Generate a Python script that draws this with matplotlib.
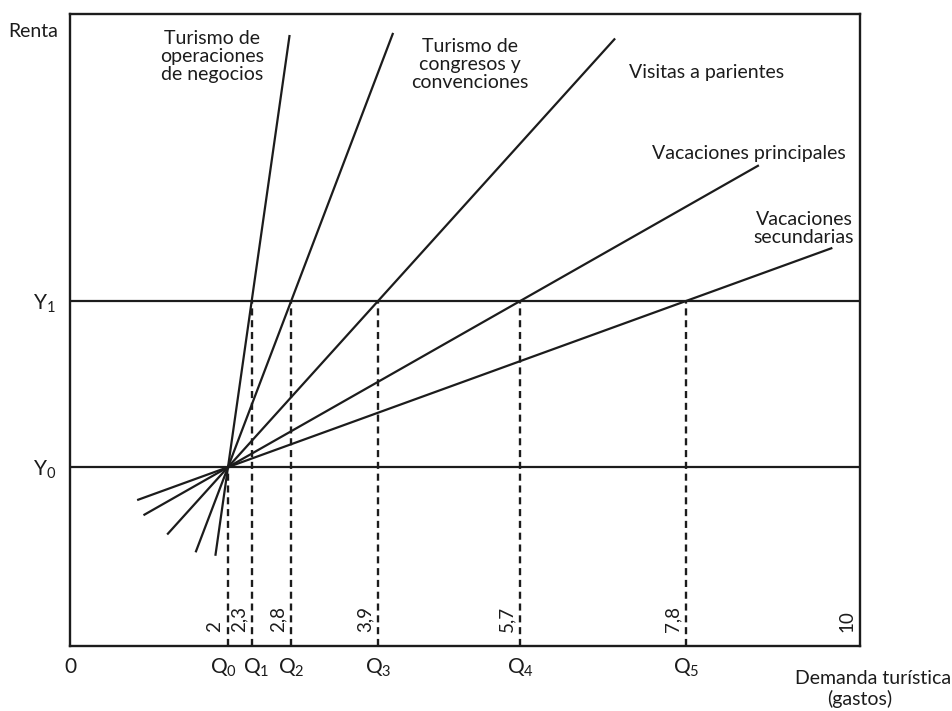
import matplotlib
matplotlib.use("Agg")
import numpy as np
import matplotlib.pyplot as plt
from matplotlib.transforms import ScaledTranslation

# demand levels at income Y1 (Q0 is the common point at Y0)
q0 = 2.0
q_values = [2.3, 2.8, 3.9, 5.7, 7.8]
q_names = ["Q$_1$", "Q$_2$", "Q$_3$", "Q$_4$", "Q$_5$"]
q_marks = ["2", "2,3", "2,8", "3,9", "5,7", "7,8", "10"]
q_mark_pos = [2.0, 2.3, 2.8, 3.9, 5.7, 7.8, 10.0]

# income levels
y0 = 2.83
y1 = 5.46

# extent of each demand line along the x axis (lower end, upper end)
line_lo = [1.84, 1.59, 1.23, 0.93, 0.85]
line_hi = [2.78, 4.09, 6.90, 8.72, 9.65]
line_labels = ["Turismo de\noperaciones\nde negocios",
               "Turismo de\ncongresos y\nconvenciones",
               "Visitas a parientes",
               "Vacaciones principales",
               "Vacaciones\nsecundarias"]
label_pos = [(1.80, 9.33), (5.06, 9.20), (7.08, 9.07), (8.59, 7.80), (9.29, 6.61)]
label_ha = ["center", "center", "left", "center", "center"]

plt.rcParams['font.family'] = ['Lato', 'DejaVu Sans']
plt.rcParams['mathtext.fontset'] = 'custom'
plt.rcParams['mathtext.rm'] = 'Lato'
plt.rcParams['mathtext.it'] = 'Lato'
plt.rcParams['mathtext.default'] = 'regular'

ink = '#1c1c1c'
fig = plt.figure(figsize=(9.52, 7.11), dpi=100)
ax = fig.add_axes([70 / 952, 65 / 711, 790 / 952, 632 / 711])
ax.set_xlim(0, 10)
ax.set_ylim(0, 10)

for s in ax.spines.values():
    s.set_linewidth(1.7)
    s.set_color(ink)

# income levels
ax.axhline(y0, color=ink, lw=1.6)
ax.axhline(y1, color=ink, lw=1.6)

# demand lines through (Q0, Y0) and (Qi, Y1)
for q, lo, hi in zip(q_values, line_lo, line_hi):
    xs = np.array([lo, hi])
    ys = y0 + (xs - q0) * (y1 - y0) / (q - q0)
    ax.plot(xs, ys, color=ink, lw=1.6, solid_capstyle='butt')

# dashed projections
ax.plot([q0, q0], [0, y0], color=ink, lw=1.7, ls=(0, (3, 2)))
for q in q_values:
    ax.plot([q, q], [0, y1], color=ink, lw=1.7, ls=(0, (3, 2)))

for (tx, ty), txt, ha in zip(label_pos, line_labels, label_ha):
    ax.text(tx, ty, txt, ha=ha, va='center', fontsize=14, color=ink,
            multialignment='center', linespacing=1.05)

for pos, m in zip(q_mark_pos, q_marks):
    ax.annotate(m, (pos, 0), xytext=(-9.5, 10), textcoords='offset points',
                rotation=90, ha='center', va='bottom', fontsize=13.5, color=ink)

ax.set_xticks([0, q0] + q_values)
ax.set_xticklabels(["0", "Q$_0$"] + q_names)
ax.set_yticks([y0, y1])
ax.set_yticklabels(["Y$_0$", "Y$_1$"])
ax.tick_params(axis='x', length=0, pad=8, labelsize=15, colors=ink)
ax.tick_params(axis='y', length=0, pad=10, labelsize=15, colors=ink)

# Q0 and Q1 sit side by side, nudge them apart a little
xlabels = ax.get_xticklabels()
xlabels[1].set_transform(xlabels[1].get_transform() + ScaledTranslation(-3 / 72, 0, fig.dpi_scale_trans))
xlabels[2].set_transform(xlabels[2].get_transform() + ScaledTranslation(3 / 72, 0, fig.dpi_scale_trans))

ax.text(-0.47, 9.72, "Renta", ha='center', va='center', fontsize=14, color=ink)
ax.text(10.17, -0.52, "Demanda turística", ha='center', va='center', fontsize=14,
        color=ink, clip_on=False)
ax.text(10.0, -0.84, "(gastos)", ha='center', va='center', fontsize=14,
        color=ink, clip_on=False)

fig.savefig("out.png", dpi=100)
